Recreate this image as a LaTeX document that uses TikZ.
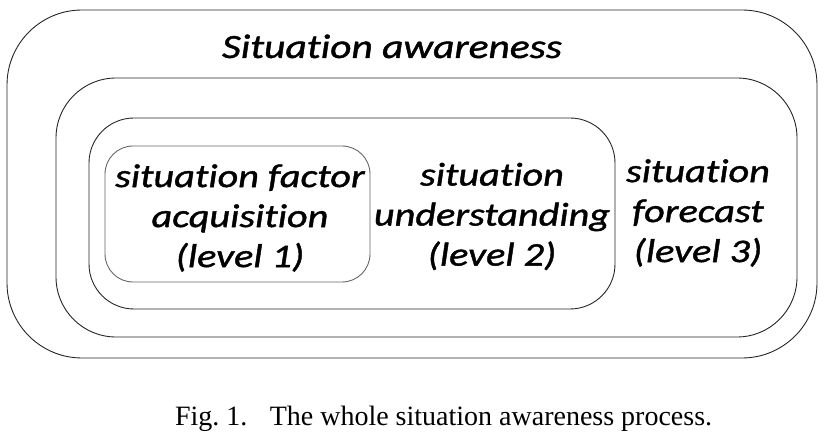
\documentclass[tikz,border=0pt]{standalone}
\usepackage{fontspec}
\setmainfont{Liberation Serif}
\newfontfamily\diagfont{Carlito}[Ligatures=NoCommon, FakeBold=1.3, FakeStretch=1.22]
\usetikzlibrary{positioning}

\begin{document}
\begin{tikzpicture}[x=1pt,y=-1pt,outer sep=0pt]
\tikzstyle{layer} = [draw=black!85, line width=0.9pt, rectangle, inner sep=0pt]
\tikzstyle{label} = [font=\diagfont\itshape\fontsize{33}{40}\selectfont, align=center, inner sep=0pt]
\tikzstyle{title} = [font=\diagfont\itshape\fontsize{34}{40}\selectfont, inner sep=0pt]

\useasboundingbox (0,0) rectangle (840,446);

% Layers
\node[layer, minimum width=810pt, minimum height=348pt, rounded corners=75pt] (aware) at (412,184) {};
\node[layer, minimum width=741pt, minimum height=259pt, rounded corners=60pt] (forecast) at (426.5,207.5) {};
\node[layer, minimum width=526pt, minimum height=191pt, rounded corners=45pt] (underst) at (352,213.5) {};
\node[layer, draw=black!60, minimum width=265pt, minimum height=136pt, rounded corners=28pt] (acquis) at (237.5,214) {};

% Texts
\node[title, anchor=base] (aware_txt) at (392,58) {Situation awareness};
\node[label] (acquis_txt) at (240,218) {situation factor\\acquisition\\(level 1)};
\node[label] (underst_txt) at (492,216.5) {situation\\understanding\\(level 2)};
\node[label] (forecast_txt) at (698,213) {situation\\forecast\\(level 3)};

% Caption
\node[font=\fontsize{28}{34}\selectfont, anchor=base west, inner sep=0pt] (caption) at (175,425) {Fig.~1.\hspace{0.8em}The whole situation awareness process.};
\end{tikzpicture}
\end{document}
